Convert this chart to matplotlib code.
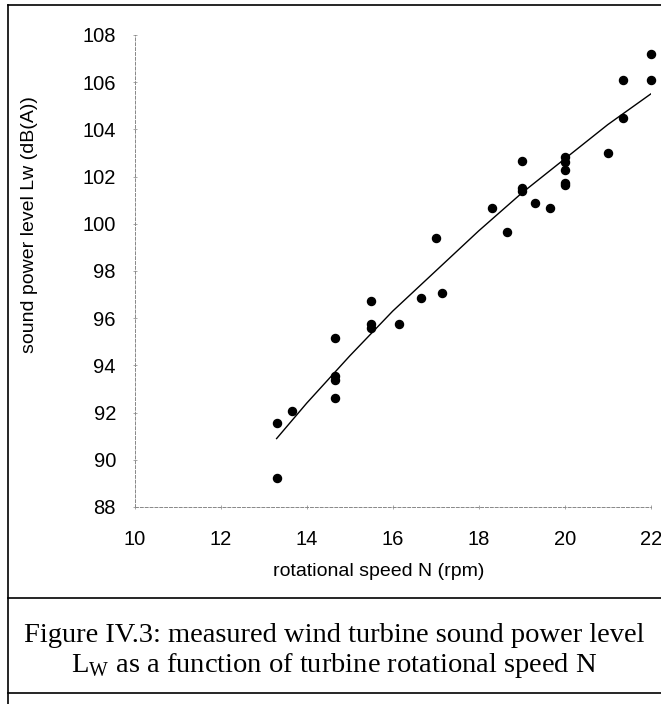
import matplotlib
matplotlib.use("Agg")
import matplotlib.pyplot as plt
from matplotlib.lines import Line2D

# ---- data ----
speed_rpm = [13.3, 13.3, 13.65, 14.65, 14.65, 14.65, 14.65, 15.5, 15.5, 15.5,
             16.15, 16.65, 17.0, 17.15, 18.3, 18.65, 19.0, 19.0, 19.0, 19.3,
             19.65, 20.0, 20.0, 20.0, 20.0, 20.0, 21.0, 21.35, 21.35, 22.0, 22.0]
lw_dba = [91.55, 89.25, 92.05, 95.15, 93.4, 93.55, 92.6, 96.75, 95.75, 95.6,
          95.75, 96.85, 99.4, 97.05, 100.65, 99.65, 102.65, 101.5, 101.4, 100.9,
          100.65, 102.85, 102.6, 102.3, 101.75, 101.65, 103.0, 106.1, 104.5, 107.2, 106.1]

trend_x = [13.3, 14.0, 15.0, 16.0, 17.0, 18.0, 19.0, 20.0, 21.0, 22.0]
trend_y = [90.9, 92.4, 94.4, 96.3, 98.0, 99.7, 101.3, 102.75, 104.2, 105.5]

xticks = [10, 12, 14, 16, 18, 20, 22]
yticks = [88, 90, 92, 94, 96, 98, 100, 102, 104, 106, 108]

x_label = "rotational speed N (rpm)"
y_label = "sound power level Lw (dB(A))"
caption1 = "Figure IV.3: measured wind turbine sound power level"
caption2 = r"L$_{\mathrm{W}}$ as a function of turbine rotational speed N"

W, H = 661, 704
plt.rcParams['font.family'] = ['Liberation Sans', 'DejaVu Sans']
plt.rcParams['mathtext.fontset'] = 'custom'
plt.rcParams['mathtext.rm'] = 'Liberation Serif'

fig = plt.figure(figsize=(W / 100, H / 100), dpi=100)
fig.patch.set_facecolor('white')

def fx(px):
    return px / W

def fy(py):
    return 1 - py / H

ax = fig.add_axes([fx(134.7), fy(507), fx(650.7) - fx(134.7), fy(35) - fy(507)])
ax.set_xlim(10, 22)
ax.set_ylim(88, 108)

ax.plot(trend_x, trend_y, color='black', lw=1.0, zorder=2)
ax.plot(speed_rpm, lw_dba, 'o', color='black', ms=5.8, mec='black', clip_on=False, zorder=3)

for s in ['top', 'right']:
    ax.spines[s].set_visible(False)
for s in ['left', 'bottom']:
    ax.spines[s].set_linestyle((0, (3, 2)))
    ax.spines[s].set_color('#888888')
    ax.spines[s].set_linewidth(0.7)

ax.set_xticks(xticks)
ax.set_yticks(yticks)
ax.tick_params(axis='both', colors='#999999', length=3, width=0.6, direction='inout',
               labelcolor='black', labelsize=14.5)
ax.tick_params(axis='x', pad=15)
ax.tick_params(axis='y', pad=12)

fig.text(fx(30), fy(225), y_label, rotation=90, ha='center', va='center', fontsize=14)
fig.text(fx(379), fy(572), x_label, ha='center', va='center', fontsize=14)

fig.text(fx(334), fy(636), caption1, ha='center', va='center', fontsize=20.5,
         family=['Liberation Serif'])
fig.text(fx(334), fy(666), caption2, ha='center', va='center', fontsize=20.5,
         family=['Liberation Serif'])

# frame
frame_kw = dict(color='black', lw=1.2, transform=fig.transFigure)
fig.add_artist(Line2D([fx(8), 1.0], [fy(5), fy(5)], **frame_kw))
fig.add_artist(Line2D([fx(8), fx(8)], [fy(5), fy(704)], **frame_kw))
fig.add_artist(Line2D([fx(8), 1.0], [fy(598), fy(598)], **frame_kw))
fig.add_artist(Line2D([fx(8), 1.0], [fy(693), fy(693)], **frame_kw))

fig.savefig("out.png", dpi=100, facecolor='white')
